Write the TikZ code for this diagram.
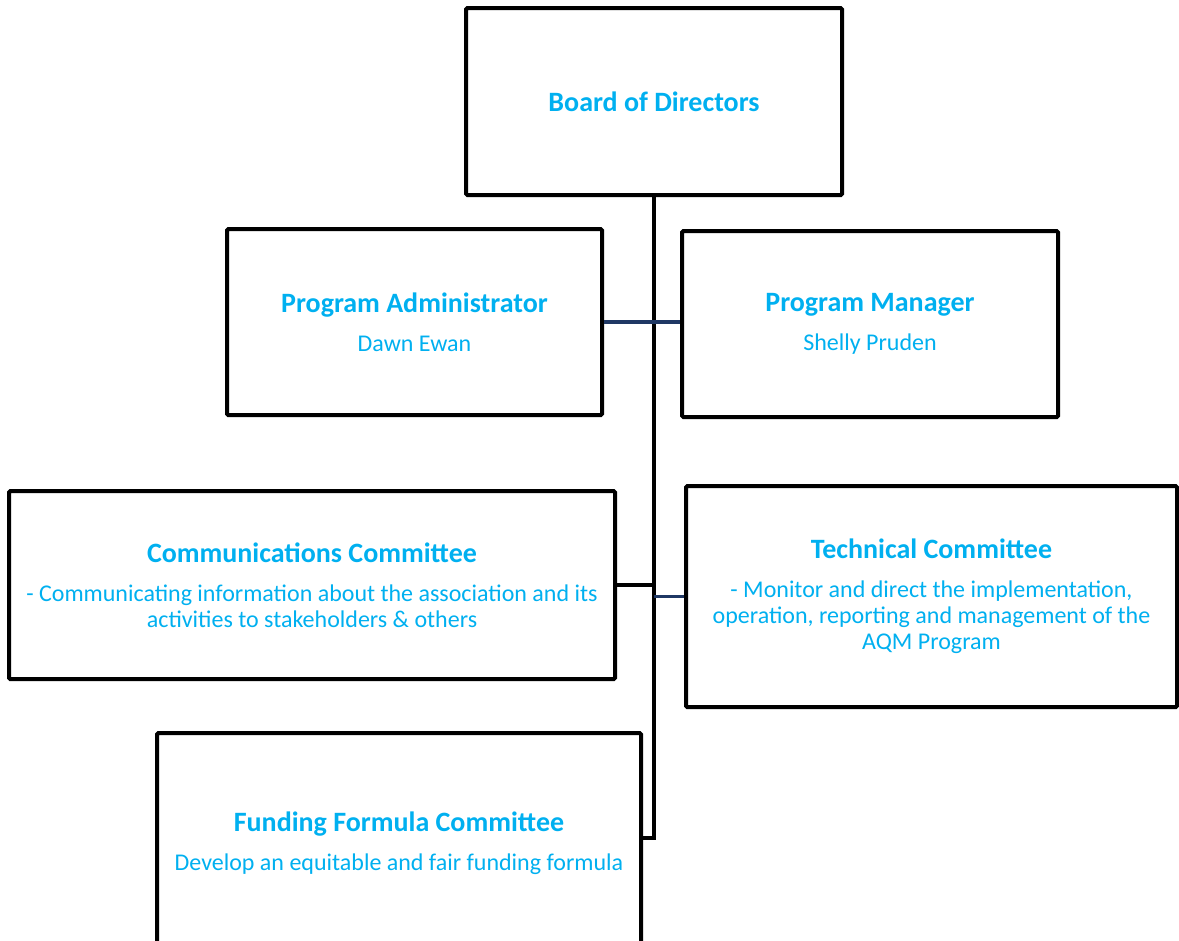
\documentclass[tikz,border=0pt]{standalone}
\usepackage{fontspec}
\setmainfont{Carlito}
\usetikzlibrary{calc}
\definecolor{sky}{HTML}{00B0F0}
\definecolor{navy}{HTML}{1F3864}
\newcommand{\boxhead}[1]{{\fontsize{21}{25}\selectfont\bfseries #1}}

\begin{document}
\begin{tikzpicture}[x=0.75pt,y=-0.75pt,
    box/.style={draw=black,line width=3pt,rounded corners=1pt,fill=white,
      align=center,text=sky,font=\fontsize{18}{19.5}\selectfont,inner sep=0pt},
    dims/.style 2 args={minimum width=#1*0.75pt,minimum height=#2*0.75pt},
    link/.style={draw=black,line width=3pt},
    navylink/.style={draw=navy,line width=2.8pt}]
    \useasboundingbox (0,0) rectangle (1179,940);
    \clip (0,0) rectangle (1179,940);

		\node [box,dims={376}{187}] (board) at (654,101.5)
		  {\boxhead{Board of Directors}};
		\node [box,dims={375}{186}] (admin) at (414.5,322)
		  {\boxhead{Program Administrator}\\[10pt] Dawn Ewan};
		\node [box,dims={376}{186}] (manager) at (870,324)
		  {\boxhead{Program Manager}\\[10pt] Shelly Pruden};
		\node [box,dims={606}{188}] (comms) at (312,585)
		  {\boxhead{Communications Committee}\\[10pt]
		   - Communicating information about the association and its\\
		   activities to stakeholders \& others};
		\node [box,dims={491}{221}] (tech) at (931.5,596.5)
		  {\boxhead{Technical Committee}\\[10pt]
		   - Monitor and direct the implementation,\\
		   operation, reporting and management of the\\
		   AQM Program};
		\node [box,dims={484}{220}] (funding) at (399,843)
		  {\boxhead{Funding Formula Committee}\\[10pt]
		   Develop an equitable and fair funding formula};

		\coordinate (trunkend) at (654,838);

		\draw [link] (board.south) -- (trunkend) -- (trunkend -| funding.east); %幹
		\draw [navylink] (admin.east) -- (admin.east -| manager.west);
		\draw [link] (comms.east) -- (comms.east -| board.south);
		\draw [navylink] (tech.west) -- (tech.west -| board.south);
\end{tikzpicture}
\end{document}
